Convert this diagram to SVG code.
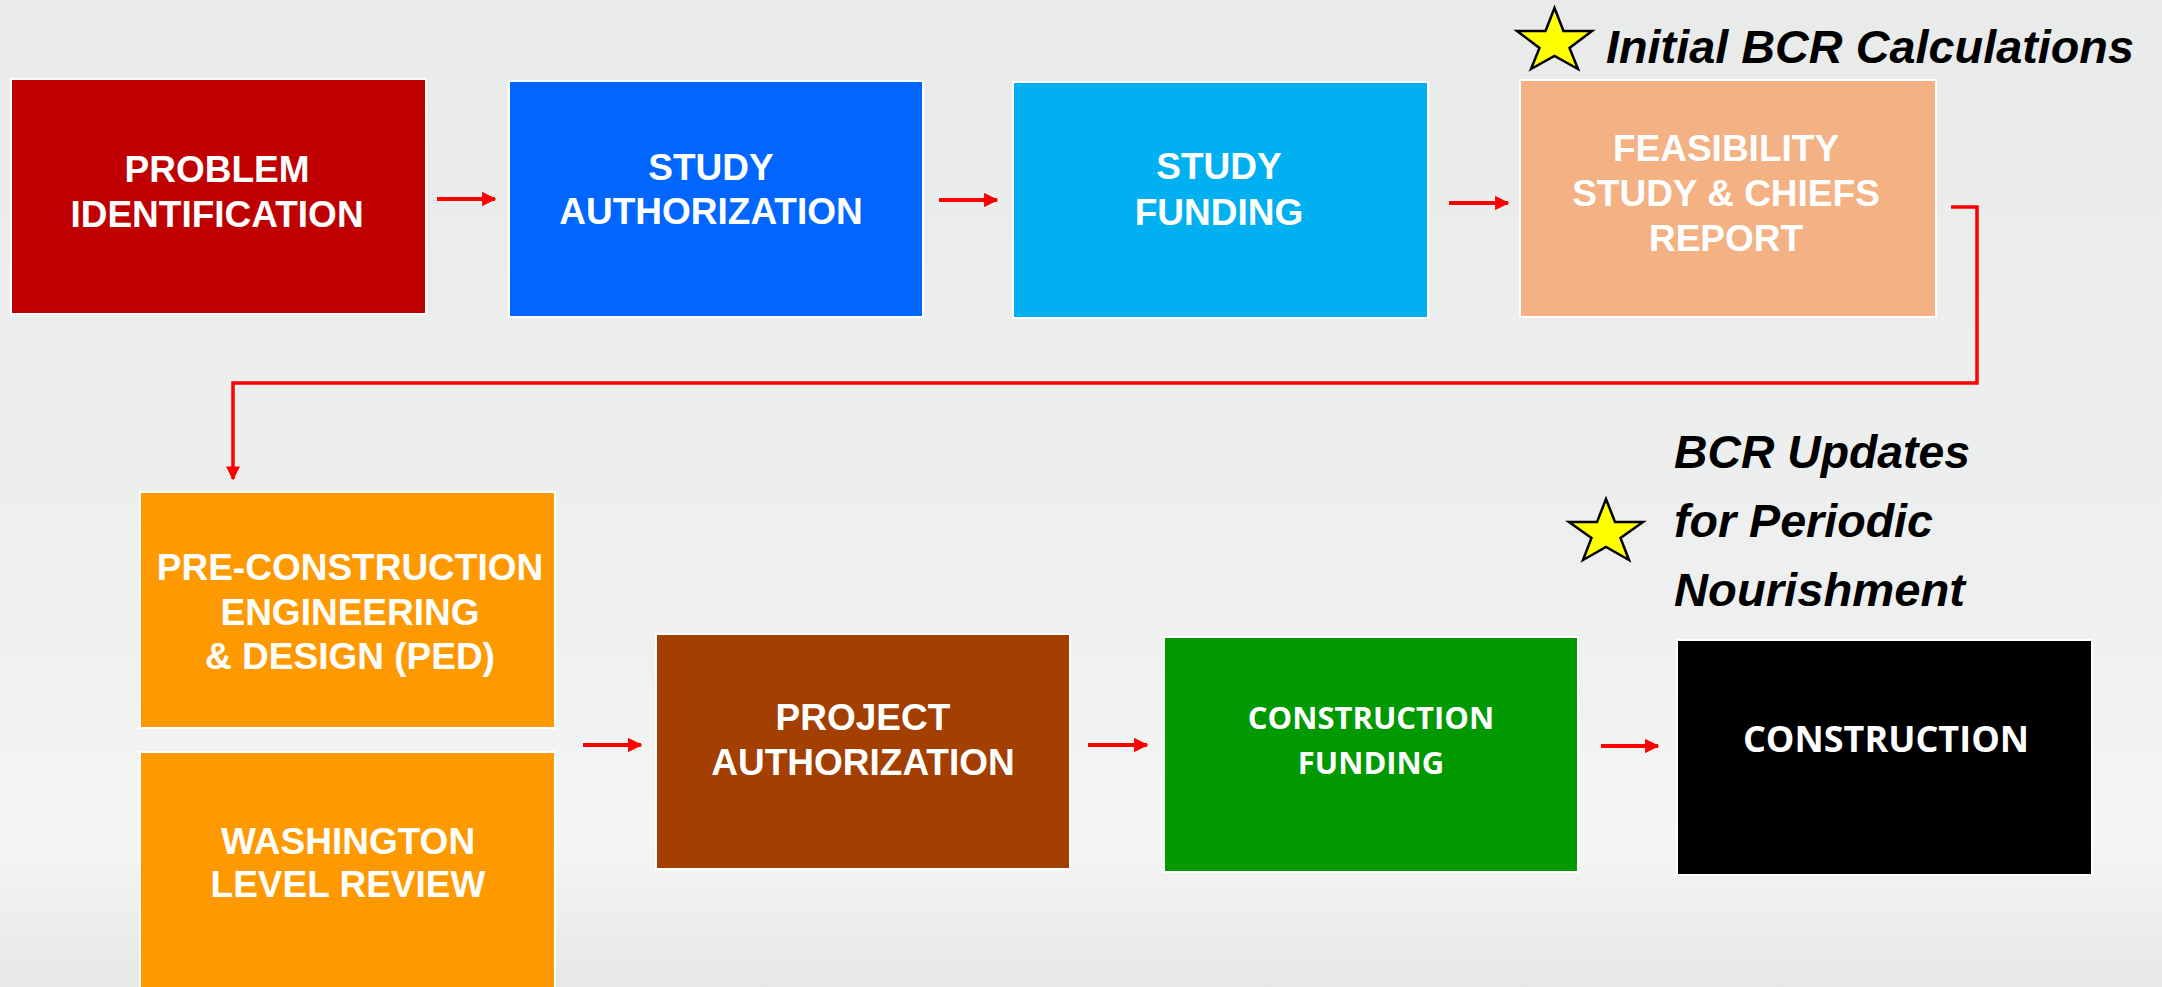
<svg xmlns="http://www.w3.org/2000/svg" width="2162" height="987" viewBox="0 0 2162 987">
<defs>
<linearGradient id="bg" x1="0" y1="0" x2="0" y2="1">
<stop offset="0" stop-color="#e8ebea"/>
<stop offset="0.6" stop-color="#eef0ef"/>
<stop offset="0.85" stop-color="#f4f5f5"/>
<stop offset="1" stop-color="#e6e8e8"/>
</linearGradient>
<marker id="ah" viewBox="0 0 10 10" refX="9" refY="5" markerWidth="3.6" markerHeight="3.6" markerUnits="strokeWidth" orient="auto">
<path d="M0,0 L10,5 L0,10 Z" fill="#ff0000"/>
</marker>
<marker id="ah2" viewBox="0 0 10 10" refX="9" refY="5" markerWidth="4" markerHeight="4.5" markerUnits="strokeWidth" orient="auto">
<path d="M0,0 L10,5 L0,10 Z" fill="#ff0000"/>
</marker>
</defs>
<style>
.box{stroke:#ffffff;stroke-width:2}
.t{font-family:"Liberation Sans",Arial,sans-serif;font-weight:bold;font-size:37px;fill:#ffffff;text-anchor:middle}
.c{font-family:"Open Sans","Liberation Sans",sans-serif;font-weight:bold;font-size:31px;fill:#ffffff;text-anchor:middle}
.lbl{font-family:"Liberation Sans",Arial,sans-serif;font-weight:bold;font-style:italic;font-size:46px;fill:#000000}
.arr{stroke:#ff0000;stroke-width:4;fill:none}
.star{fill:#ffff00;stroke:#000000;stroke-width:2.5;stroke-linejoin:miter}
</style>
<rect width="2162" height="987" fill="url(#bg)"/>

<g id="connectors">
<line class="arr" x1="437" y1="199" x2="495" y2="199" marker-end="url(#ah)"/>
<line class="arr" x1="939" y1="200" x2="997" y2="200" marker-end="url(#ah)"/>
<line class="arr" x1="1449" y1="203" x2="1508" y2="203" marker-end="url(#ah)"/>
<polyline class="arr" style="stroke-width:3.5" points="1951,207 1977,207 1977,383 233,383 233,479" marker-end="url(#ah2)"/>
<line class="arr" x1="583" y1="745" x2="641" y2="745" marker-end="url(#ah)"/>
<line class="arr" x1="1088" y1="745" x2="1147" y2="745" marker-end="url(#ah)"/>
<line class="arr" x1="1601" y1="746" x2="1658" y2="746" marker-end="url(#ah)"/>
</g>

<g id="problem-identification">
<rect class="box" x="11" y="79" width="415" height="235" fill="#c00000"/>
<text class="t" x="217" y="182">PROBLEM</text>
<text class="t" x="217" y="227">IDENTIFICATION</text>
</g>
<g id="study-authorization">
<rect class="box" x="509" y="81" width="414" height="236" fill="#0066ff"/>
<text class="t" x="711" y="180">STUDY</text>
<text class="t" x="711" y="224">AUTHORIZATION</text>
</g>
<g id="study-funding">
<rect class="box" x="1013" y="82" width="415" height="236" fill="#00b0f0"/>
<text class="t" x="1219" y="179">STUDY</text>
<text class="t" x="1219" y="225">FUNDING</text>
</g>
<g id="feasibility-study">
<rect class="box" x="1520" y="80" width="416" height="237" fill="#f4b183"/>
<text class="t" x="1726" y="161">FEASIBILITY</text>
<text class="t" x="1726" y="206">STUDY &amp; CHIEFS</text>
<text class="t" x="1726" y="251">REPORT</text>
</g>
<g id="ped">
<rect class="box" x="140" y="492" width="415" height="236" fill="#ff9900"/>
<text class="t" x="350" y="580">PRE-CONSTRUCTION</text>
<text class="t" x="350" y="625">ENGINEERING</text>
<text class="t" x="350" y="669">&amp; DESIGN (PED)</text>
</g>
<g id="washington-level-review">
<rect class="box" x="140" y="752" width="415" height="245" fill="#ff9900"/>
<text class="t" x="348" y="854">WASHINGTON</text>
<text class="t" x="348" y="897">LEVEL REVIEW</text>
</g>
<g id="project-authorization">
<rect class="box" x="656" y="634" width="414" height="235" fill="#a33f00"/>
<text class="t" x="863" y="730">PROJECT</text>
<text class="t" x="863" y="775">AUTHORIZATION</text>
</g>
<g id="construction-funding">
<rect class="box" x="1164" y="637" width="414" height="235" fill="#009900"/>
<text class="c" x="1371" y="729">CONSTRUCTION</text>
<text class="c" x="1371" y="774">FUNDING</text>
</g>
<g id="construction">
<rect class="box" x="1677" y="640" width="415" height="235" fill="#000000"/>
<text class="c" x="1886" y="752" style="font-size:36px">CONSTRUCTION</text>
</g>

<g id="initial-bcr">
<polygon class="star" points="1554.5,8 1563.5,31 1592,31 1569.5,48 1578,69 1554.5,56 1531,69 1539.5,48 1517,31 1545.5,31"/>
<text class="lbl" x="1606" y="63" textLength="528" lengthAdjust="spacingAndGlyphs">Initial BCR Calculations</text>
</g>
<g id="bcr-updates">
<polygon class="star" points="1606,499 1615,522 1643,522 1620.5,538 1629,560 1606,547 1583,560 1591.5,538 1569,522 1597,522"/>
<text class="lbl" x="1674" y="468" textLength="296" lengthAdjust="spacingAndGlyphs">BCR Updates</text>
<text class="lbl" x="1674" y="537" textLength="259" lengthAdjust="spacingAndGlyphs">for Periodic</text>
<text class="lbl" x="1674" y="606" textLength="291" lengthAdjust="spacingAndGlyphs">Nourishment</text>
</g>
</svg>
